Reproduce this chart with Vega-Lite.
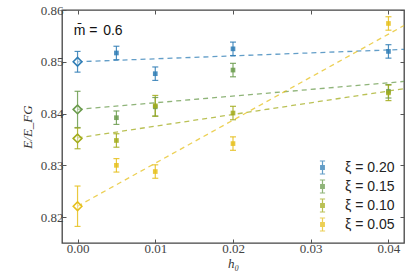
{
  "$schema": "https://vega.github.io/schema/vega-lite/v6.json",
  "width": 342,
  "height": 233,
  "autosize": {"type": "none"},
  "padding": {"left": 62, "top": 10, "right": 11, "bottom": 34},
  "background": "white",
  "config": {
    "view": {"stroke": "#444", "strokeWidth": 1.3},
    "axis": {
      "grid": false,
      "domain": false,
      "tickColor": "#555",
      "tickSize": -4,
      "labelFont": "Liberation Serif",
      "labelFontSize": 13,
      "labelColor": "#444",
      "labelPadding": 3,
      "titleFont": "Liberation Serif",
      "titleFontStyle": "italic",
      "titleFontWeight": "normal",
      "titleFontSize": 13,
      "titleColor": "#333"
    }
  },
  "datasets": {
    "pts": [
      {"xi": "ξ = 0.20", "h": 0, "E": 0.85, "lo": 0.848, "hi": 0.852},
      {"xi": "ξ = 0.20", "h": 0.005, "E": 0.8517, "lo": 0.8504, "hi": 0.853},
      {"xi": "ξ = 0.20", "h": 0.01, "E": 0.8477, "lo": 0.8464, "hi": 0.849},
      {"xi": "ξ = 0.20", "h": 0.02, "E": 0.8525, "lo": 0.8512, "hi": 0.8538},
      {"xi": "ξ = 0.20", "h": 0.04, "E": 0.852, "lo": 0.8507, "hi": 0.8533},
      {"xi": "ξ = 0.15", "h": 0, "E": 0.8408, "lo": 0.8373, "hi": 0.8443},
      {"xi": "ξ = 0.15", "h": 0.005, "E": 0.8392, "lo": 0.8379, "hi": 0.8405},
      {"xi": "ξ = 0.15", "h": 0.01, "E": 0.8413, "lo": 0.8395, "hi": 0.8431},
      {"xi": "ξ = 0.15", "h": 0.02, "E": 0.8484, "lo": 0.8471, "hi": 0.8497},
      {"xi": "ξ = 0.15", "h": 0.04, "E": 0.8443, "lo": 0.843, "hi": 0.8456},
      {"xi": "ξ = 0.10", "h": 0, "E": 0.8352, "lo": 0.8332, "hi": 0.8372},
      {"xi": "ξ = 0.10", "h": 0.005, "E": 0.8348, "lo": 0.8335, "hi": 0.8361},
      {"xi": "ξ = 0.10", "h": 0.01, "E": 0.8415, "lo": 0.8395, "hi": 0.8435},
      {"xi": "ξ = 0.10", "h": 0.02, "E": 0.8401, "lo": 0.8388, "hi": 0.8414},
      {"xi": "ξ = 0.10", "h": 0.04, "E": 0.844, "lo": 0.8425, "hi": 0.8455},
      {"xi": "ξ = 0.05", "h": 0, "E": 0.8221, "lo": 0.8182, "hi": 0.826},
      {"xi": "ξ = 0.05", "h": 0.005, "E": 0.83, "lo": 0.8287, "hi": 0.8313},
      {"xi": "ξ = 0.05", "h": 0.01, "E": 0.8288, "lo": 0.8275, "hi": 0.8301},
      {"xi": "ξ = 0.05", "h": 0.02, "E": 0.8342, "lo": 0.8329, "hi": 0.8355},
      {"xi": "ξ = 0.05", "h": 0.04, "E": 0.8574, "lo": 0.8561, "hi": 0.8587}
    ],
    "fits": [
      {"xi": "ξ = 0.20", "h": 0, "E": 0.85},
      {"xi": "ξ = 0.20", "h": 0.042, "E": 0.8524},
      {"xi": "ξ = 0.15", "h": 0, "E": 0.8408},
      {"xi": "ξ = 0.15", "h": 0.042, "E": 0.8462},
      {"xi": "ξ = 0.10", "h": 0, "E": 0.8353},
      {"xi": "ξ = 0.10", "h": 0.042, "E": 0.8448},
      {"xi": "ξ = 0.05", "h": 0, "E": 0.8221},
      {"xi": "ξ = 0.05", "h": 0.042, "E": 0.857}
    ],
    "notes": [
      {"h": -0.0005, "E": 0.8559, "t": "m̄ =", "kind": "serif"},
      {"h": 0.0033, "E": 0.8559, "t": "0.6", "kind": "sans"}
    ]
  },
  "layer": [
    {
      "data": {"name": "fits"},
      "mark": {"type": "line", "strokeDash": [5, 4], "strokeWidth": 1.3, "opacity": 0.75},
      "encoding": {
        "x": {"field": "h", "type": "quantitative",
          "scale": {"domain": [-0.002, 0.042], "nice": false, "zero": false},
          "axis": {"orient": "bottom", "values": [0, 0.01, 0.02, 0.03, 0.04], "format": ".2f", "title": "h₀", "titlePadding": 2}},
        "y": {"field": "E", "type": "quantitative",
          "scale": {"domain": [0.815, 0.86], "nice": false, "zero": false},
          "axis": {"orient": "left", "values": [0.82, 0.83, 0.84, 0.85, 0.86], "format": ".2f", "title": "E/E_FG", "titlePadding": 6}},
        "color": {"field": "xi", "type": "nominal",
          "scale": {"domain": ["ξ = 0.20", "ξ = 0.15", "ξ = 0.10", "ξ = 0.05"], "range": ["#2f7db5", "#6a9b4c", "#a3ac1c", "#e6c01c"]},
          "legend": {
            "title": null,
            "orient": "bottom-right",
            "offset": 9,
            "symbolType": "M0,-1L0,1M-0.4,-1L0.4,-1M-0.4,1L0.4,1M-0.28,-0.28L0.28,-0.28L0.28,0.28L-0.28,0.28Z",
            "symbolSize": 169,
            "symbolStrokeWidth": 1.2,
            "labelFont": "Liberation Sans",
            "labelFontSize": 14,
            "labelColor": "#222",
            "labelOffset": 15,
            "rowPadding": 0,
            "encode": {"symbols": {"update": {
              "fill": {"scale": "color", "field": "value"},
              "stroke": {"scale": "color", "field": "value"},
              "fillOpacity": {"value": 0.8}
            }}}
          }},
        "detail": {"field": "xi"}
      }
    },
    {
      "data": {"name": "pts"},
      "mark": {"type": "rule", "strokeWidth": 1.2, "opacity": 0.85},
      "encoding": {
        "x": {"field": "h", "type": "quantitative", "axis": null},
        "y": {"field": "lo", "type": "quantitative", "axis": null},
        "y2": {"field": "hi"},
        "color": {"field": "xi", "type": "nominal"}
      }
    },
    {
      "data": {"name": "pts"},
      "mark": {"type": "tick", "orient": "horizontal", "size": 6, "thickness": 1.2, "opacity": 0.85},
      "encoding": {
        "x": {"field": "h", "type": "quantitative", "axis": null},
        "y": {"field": "lo", "type": "quantitative", "axis": null},
        "color": {"field": "xi", "type": "nominal"}
      }
    },
    {
      "data": {"name": "pts"},
      "mark": {"type": "tick", "orient": "horizontal", "size": 6, "thickness": 1.2, "opacity": 0.85},
      "encoding": {
        "x": {"field": "h", "type": "quantitative", "axis": null},
        "y": {"field": "hi", "type": "quantitative", "axis": null},
        "color": {"field": "xi", "type": "nominal"}
      }
    },
    {
      "data": {"name": "pts"},
      "transform": [{"filter": "datum.h > 0"}],
      "mark": {"type": "point", "shape": "square", "filled": true, "size": 22, "opacity": 0.85},
      "encoding": {
        "x": {"field": "h", "type": "quantitative", "axis": null},
        "y": {"field": "E", "type": "quantitative", "axis": null},
        "color": {"field": "xi", "type": "nominal"}
      }
    },
    {
      "data": {"name": "pts"},
      "transform": [{"filter": "datum.h == 0"}],
      "mark": {"type": "point", "shape": "diamond", "filled": false, "size": 75, "strokeWidth": 1.6, "fill": "white", "fillOpacity": 0.4},
      "encoding": {
        "x": {"field": "h", "type": "quantitative", "axis": null},
        "y": {"field": "E", "type": "quantitative", "axis": null},
        "color": {"field": "xi", "type": "nominal"}
      }
    },
    {
      "data": {"name": "notes"},
      "mark": {"type": "text", "align": "left", "baseline": "middle", "fontSize": 14, "color": "#111"},
      "encoding": {
        "x": {"field": "h", "type": "quantitative",
          "axis": {"orient": "top", "values": [0, 0.01, 0.02, 0.03, 0.04], "labels": false, "title": null}},
        "y": {"field": "E", "type": "quantitative",
          "axis": {"orient": "right", "values": [0.82, 0.83, 0.84, 0.85, 0.86], "labels": false, "title": null}},
        "text": {"field": "t"},
        "font": {"field": "kind", "type": "nominal", "legend": null,
          "scale": {"domain": ["serif", "sans"], "range": ["Liberation Serif", "Liberation Sans"]}},
        "fontStyle": {"condition": {"test": "datum.kind == 'serif'", "value": "italic"}, "value": "normal"}
      }
    }
  ],
  "resolve": {"axis": {"x": "independent", "y": "independent"}}
}
